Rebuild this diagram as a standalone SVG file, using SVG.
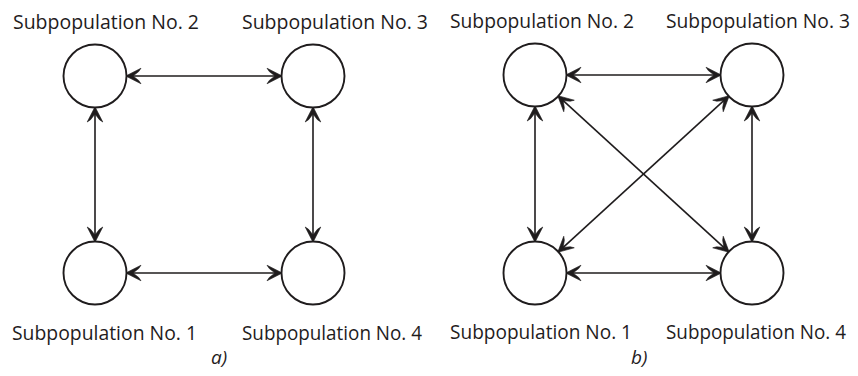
<svg xmlns="http://www.w3.org/2000/svg" width="858" height="376" viewBox="0 0 858 376">
<defs>
<style>
.lbl{font-family:"Open Sans","Liberation Sans",sans-serif;font-size:20.5px;fill:#1f1c1d}
.cap{font-family:"Open Sans","Liberation Sans",sans-serif;font-size:19px;font-style:italic;fill:#1f1c1d}
circle{fill:#fff;stroke:#1f1c1d;stroke-width:1.9}
.c line{stroke:#1f1c1d;stroke-width:1.6;fill:none;marker-start:url(#ah);marker-end:url(#ah)}
</style>
<marker id="ah" markerUnits="userSpaceOnUse" refX="16" refY="9" markerWidth="18" markerHeight="18" orient="auto-start-reverse" overflow="visible">
<path d="M16.8,9 L1.5,1.2 L3.8,4.6 L9.5,9 L3.8,13.4 L1.5,16.8 Z" fill="#1f1c1d" stroke="#1f1c1d" stroke-width="0.6" stroke-linejoin="round"/>
</marker>
</defs>
<rect width="858" height="376" fill="#fff"/>
<g class="c" id="connectors">
<line x1="126.5" y1="76" x2="281.5" y2="76"/>
<line x1="126.5" y1="273" x2="281.5" y2="273"/>
<line x1="95" y1="107.5" x2="95" y2="241.5"/>
<line x1="313" y1="107.5" x2="313" y2="241.5"/>
<line x1="566.5" y1="75" x2="720.5" y2="75"/>
<line x1="566.5" y1="273" x2="720.5" y2="273"/>
<line x1="535" y1="106.5" x2="535" y2="241.5"/>
<line x1="752" y1="106.5" x2="752" y2="241.5"/>
<line x1="558.3" y1="96.2" x2="728.7" y2="251.8"/>
<line x1="558.3" y1="251.8" x2="728.7" y2="96.2"/>
</g>
<g id="a2"><circle cx="95" cy="76" r="31.5"/><text class="lbl" x="13" y="29" textLength="186" lengthAdjust="spacingAndGlyphs">Subpopulation No. 2</text></g>
<g id="a3"><circle cx="313" cy="76" r="31.5"/><text class="lbl" x="242" y="29" textLength="186" lengthAdjust="spacingAndGlyphs">Subpopulation No. 3</text></g>
<g id="a1"><circle cx="95" cy="273" r="31.5"/><text class="lbl" x="12" y="340" textLength="185" lengthAdjust="spacingAndGlyphs">Subpopulation No. 1</text></g>
<g id="a4"><circle cx="313" cy="273" r="31.5"/><text class="lbl" x="242" y="340" textLength="180" lengthAdjust="spacingAndGlyphs">Subpopulation No. 4</text></g>
<g id="b2"><circle cx="535" cy="75" r="31.5"/><text class="lbl" x="450" y="28" textLength="184" lengthAdjust="spacingAndGlyphs">Subpopulation No. 2</text></g>
<g id="b3"><circle cx="752" cy="75" r="31.5"/><text class="lbl" x="666" y="28" textLength="184" lengthAdjust="spacingAndGlyphs">Subpopulation No. 3</text></g>
<g id="b1"><circle cx="535" cy="273" r="31.5"/><text class="lbl" x="450" y="339" textLength="182" lengthAdjust="spacingAndGlyphs">Subpopulation No. 1</text></g>
<g id="b4"><circle cx="752" cy="273" r="31.5"/><text class="lbl" x="666" y="339" textLength="180" lengthAdjust="spacingAndGlyphs">Subpopulation No. 4</text></g>
<text class="cap" x="211" y="364">a)</text>
<text class="cap" x="631" y="364">b)</text>
</svg>
